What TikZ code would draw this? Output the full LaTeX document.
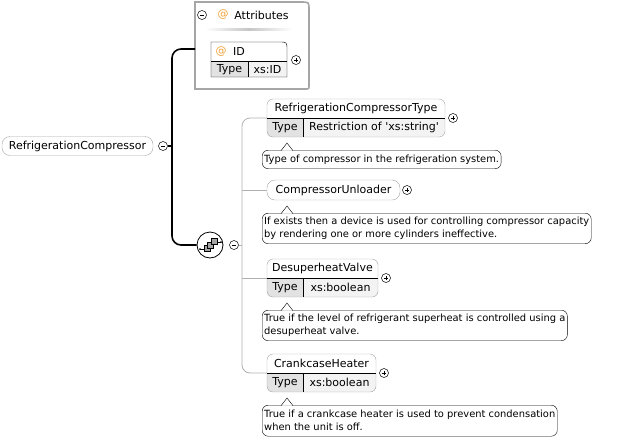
\documentclass[tikz,border=0pt]{standalone}
\usepackage{fontspec}
\setmainfont{DejaVu Sans}
\usetikzlibrary{backgrounds}

\definecolor{boxgray}{HTML}{A6A6A6}
\definecolor{linegray}{HTML}{B0B0B0}
\definecolor{typegray}{HTML}{E2E2E2}
\definecolor{valgray}{HTML}{F3F3F3}
\definecolor{atcolor}{HTML}{EFA23A}
\definecolor{iconfill}{HTML}{A4A4A4}

\begin{document}
\begin{tikzpicture}[x=1pt,y=-1pt,>=stealth]
  \tikzstyle{every node}=[inner sep=0pt,font=\fontsize{11}{13}\selectfont]
  \tikzstyle{elem}=[draw=boxgray,rounded corners=6pt,minimum height=19pt]
  \tikzstyle{typed}=[elem,minimum height=38pt]
  \tikzstyle{doc}=[draw=black,rounded corners=6pt,anchor=north west,align=left,
                   inner xsep=2pt,inner ysep=3pt,font=\fontsize{9.9}{13}\selectfont]
  \tikzstyle{toggle}=[circle,draw=black,line width=0.5pt,minimum size=9pt]
  \tikzstyle{plus}=[toggle,path picture={
      \draw[line width=0.5pt] (path picture bounding box.center) ++(-2.3pt,0pt) -- ++(4.6pt,0pt);
      \draw[line width=0.5pt] (path picture bounding box.center) ++(0pt,-2.3pt) -- ++(0pt,4.6pt);}]
  \tikzstyle{minus}=[toggle,path picture={
      \draw[line width=0.5pt] (path picture bounding box.center) ++(-2.3pt,0pt) -- ++(4.6pt,0pt);}]
  \tikzstyle{trunk}=[line width=1.6pt,black]
  \tikzstyle{branch}=[line width=0.8pt,linegray]
  \tikzstyle{pointer}=[draw=black,fill=white]
  \useasboundingbox (0,0) rectangle (621,440);

  % root element
  \node[elem,minimum width=151pt,rounded corners=8pt] (root) at (77.5,146) {RefrigerationCompressor};
  \node[minus] (rootm) at (163,146) {};
  \coordinate (trunkx) at (172,146);
  \coordinate (attin) at (195,49);
  \coordinate (bus) at (242,245);
  \coordinate (cellx) at (303,0);

  % attributes group
  \draw[boxgray,line width=1.6pt] (195,89) -- (195,2) -- (301,2) .. controls (309,2) .. (309,10)
    -- (309,85) .. controls (309,89) .. (305,89) -- cycle;
  \node[minus] (attm) at (202,15) {};
  \node[text=atcolor] (attat) at (223,15) {@};
  \node (atttitle) at (261.5,15) {Attributes};
  \shade[left color=white,right color=white,middle color=gray!45] (205,28.5) rectangle (292,30);

  % attribute ID
  \fill[valgray] (211,61) rectangle (287,77);
  \fill[typegray] (211,61) rectangle (248,77);
  \draw (211,77) -- (211,42) -- (279,42) .. controls (287,42) .. (287,50) -- (287,77) -- cycle;
  \draw (211,61) -- (287,61);
  \draw (248,61) -- (248,77);
  \node[text=atcolor] (idat) at (221,51.5) {@};
  \node (idname) at (239,51.5) {ID};
  \node (idtype) at (229.5,69.5) {Type};
  \node (idval) at (267.5,69.5) {xs:ID};
  \node[plus] (idp) at (296,60) {};

  % sequence
  \node[circle,draw=black,line width=0.8pt,minimum size=26pt,fill=white] (seq) at (210,245) {};
  \begin{scope}[shift={(seq.center)}]
    \draw[line width=0.8pt] (-10,4) -- (-5,4);
    \fill (-10,4) circle (1pt);
    \draw[line width=0.8pt] (6,-3) -- (11,-3);
    \fill (11,-3) circle (1pt);
    \draw[fill=iconfill,line width=0.4pt] (-6,0.5) rectangle (0,6.5);
    \draw[fill=iconfill,line width=0.4pt] (-2.5,-3) rectangle (3.5,3);
    \draw[fill=iconfill,line width=0.4pt] (1,-6.5) rectangle (7,-0.5);
  \end{scope}
  \node[minus] (seqm) at (234,245) {};

  % children
  \node[typed,minimum width=178pt] (c1) at (356,118) {};
  \node[elem,minimum width=133pt,minimum height=20pt,rounded corners=8pt] (c2) at (333.5,190) {};
  \node[typed,minimum width=111pt] (c3) at (322.5,278) {};
  \node[typed,minimum width=109pt] (c4) at (321.5,373) {};
  \begin{scope}[on background layer]
    \foreach \c in {c1,c3,c4} {
      \begin{scope}
        \clip[rounded corners=6pt] (\c.north west) rectangle (\c.south east);
        \fill[valgray] (\c.west) rectangle (\c.south east);
        \fill[typegray] (\c.west) rectangle (\c.south -| cellx);
      \end{scope}
    }
  \end{scope}
  \foreach \c in {c1,c3,c4} {
    \draw (\c.west) -- (\c.east);
    \draw (\c.center -| cellx) -- (\c.south -| cellx);
  }

  \node (c1name) at (356,108.5) {RefrigerationCompressorType};
  \node (c1type) at (285,127.5) {Type};
  \node (c1val) at (374,127.5) {Restriction of \textquotesingle xs:string\textquotesingle};
  \node[plus] (c1p) at (453,118) {};

  \node (c2name) at (333.5,190) {CompressorUnloader};
  \node[plus] (c2p) at (407,190) {};

  \node (c3name) at (322.5,268.5) {DesuperheatValve};
  \node (c3type) at (285,287.5) {Type};
  \node (c3val) at (340.5,287.5) {xs:boolean};
  \node[plus] (c3p) at (386,278) {};

  \node (c4name) at (321.5,363.5) {CrankcaseHeater};
  \node (c4type) at (285,382.5) {Type};
  \node (c4val) at (339.5,382.5) {xs:boolean};
  \node[plus] (c4p) at (384,373) {};

  % documentation
  \node[doc,minimum height=18.5pt] (d1) at (262,150) {Type of compressor in the refrigeration system.};
  \node[doc,minimum height=30.5pt] (d2) at (262,213) {If exists then a device is used for controlling compressor capacity\\by rendering one or more cylinders ineffective.};
  \node[doc,minimum height=30.5pt] (d3) at (262,310) {True if the level of refrigerant superheat is controlled using a\\desuperheat valve.};
  \node[doc,minimum height=31pt] (d4) at (262,405) {True if a crankcase heater is used to prevent condensation\\when the unit is off.};
  \foreach \d in {d1,d2,d3,d4}
    \draw[pointer] ([xshift=19pt,yshift=-0.7pt]\d.north west) -- ([xshift=25pt,yshift=7pt]\d.north west)
      -- ([xshift=31pt,yshift=-0.7pt]\d.north west);

  % connectors
  \draw[trunk] (rootm.east) -- (trunkx);
  \draw[trunk,rounded corners=9pt] (attin) -- (attin -| trunkx) -- (seq.west -| trunkx) -- (seq.west);
  \draw[branch] (seqm.east) -- (bus);
  \draw[branch,rounded corners=8pt] (c1.west) -- (c1.west -| bus) -- (c4.west -| bus) -- (c4.west);
  \draw[branch] (c2.west -| bus) -- (c2.west);
  \draw[branch] (c3.west -| bus) -- (c3.west);
\end{tikzpicture}
\end{document}
